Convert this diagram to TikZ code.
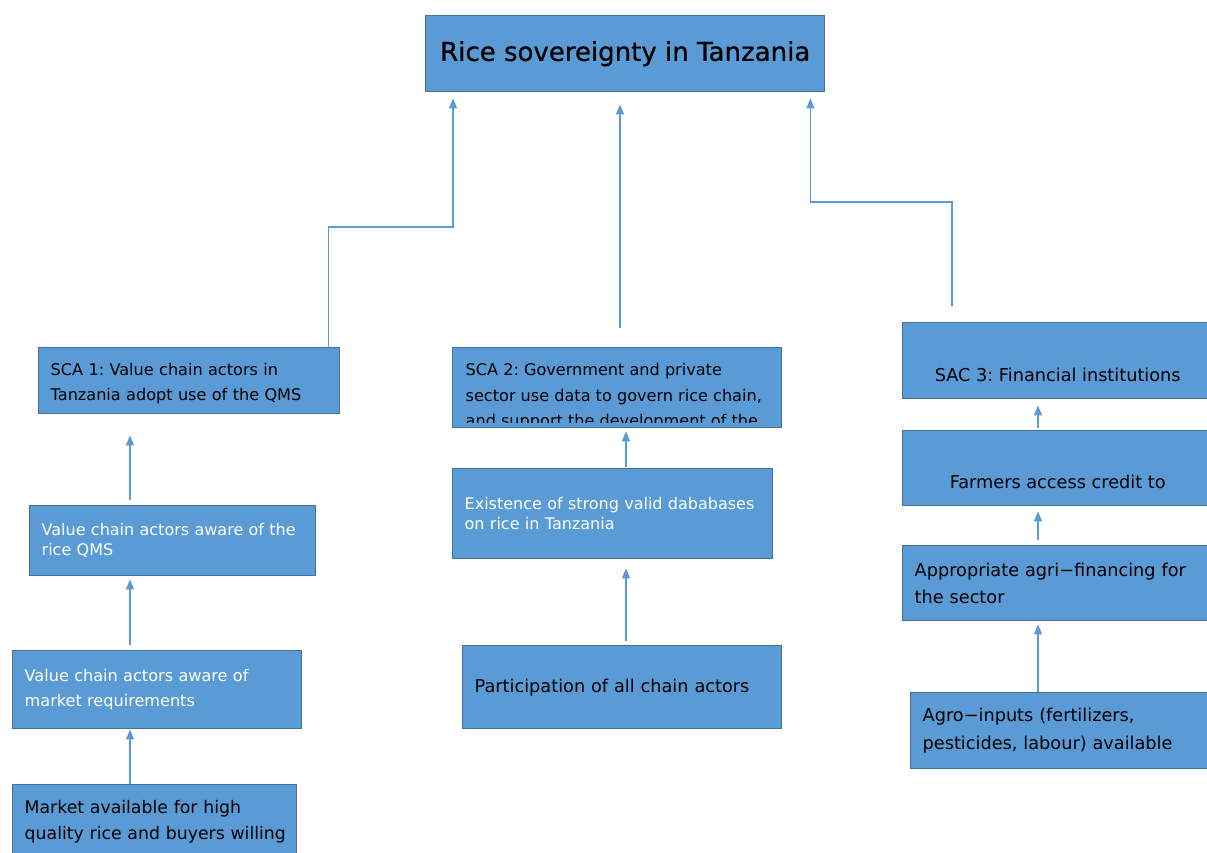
\documentclass[tikz,border=0pt]{standalone}
\usepackage{fontspec}
\setmainfont{DejaVu Sans}
\newfontfamily\titlefont{DejaVu Sans}[FakeBold=0.7]
\usetikzlibrary{arrows.meta}

\definecolor{boxblue}{HTML}{5B9BD5}
\definecolor{boxedge}{HTML}{41719C}
\definecolor{lineblue}{HTML}{5B9BD5}

\tikzset{
  box/.style={draw=boxedge, fill=boxblue, line width=1.4pt, anchor=north west,
    align=left, inner xsep=12pt, inner ysep=0pt,
    font=\fontsize{16.1}{25.5}\selectfont},
  bigbox/.style={box, font=\fontsize{17.7}{27.5}\selectfont},
  tightbox/.style={box, text=white, font=\fontsize{16}{20}\selectfont},
  arr/.style={draw=lineblue, line width=1.3pt, -{Triangle[length=10pt,width=8pt]}}
}

\begin{document}
\frenchspacing
\begin{tikzpicture}[x=1pt, y=-1pt]
\useasboundingbox (0,0) rectangle (1207,853);

\node[box, minimum width=399pt, minimum height=76pt, align=center, font=\titlefont\fontsize{26}{30}\selectfont] (title) at (425,15) {Rice sovereignty in Tanzania};

\node[box, text width=277pt, minimum height=66pt] (sca1) at (38,347) {\rule{0pt}{18pt}SCA 1: Value chain actors in\\Tanzania adopt use of the QMS};
\node[tightbox, text width=262pt, minimum height=70pt] (vcaqms) at (29,505) {Value chain actors aware of the\\rice QMS};
\node[box, text width=265pt, minimum height=78pt, text=white] (vcamkt) at (12,650) {Value chain actors aware of\\market requirements};
\node[bigbox, text width=260pt, minimum height=74pt, font=\fontsize{17.3}{26}\selectfont] (market) at (12,784) {Market available for high\\\mbox{quality rice and buyers willing}};

\node[box, minimum width=329pt, minimum height=80pt] (sca2) at (452,347) {};
\begin{scope}
\clip (sca2.north west) rectangle ([yshift=6pt]sca2.south east);
\node[box, draw=none, fill=none, inner xsep=0pt] (sca2txt) at ([xshift=13pt,yshift=-16pt]sca2.north west) {SCA 2: Government and private\\sector use data to govern rice chain,\\and support the development of the};
\end{scope}
\node[tightbox, text width=296pt, minimum height=90pt] (exist) at (452,468) {\mbox{Existence of strong valid dababases}\\on rice in Tanzania};
\node[bigbox, text width=295pt, minimum height=83pt] (partic) at (462,645) {Participation of all chain actors};

\node[bigbox, minimum width=310pt, minimum height=76pt, align=center] (sac3) at (902,322) {\mbox{}\\[14pt]SAC 3: Financial institutions};
\node[bigbox, minimum width=310pt, minimum height=75pt, align=center] (farmers) at (902,430) {\mbox{}\\[14pt]Farmers access credit to};
\node[bigbox, text width=286pt, minimum height=75pt] (approp) at (902,545) {Appropriate agri−financing for\\the sector};
\node[bigbox, text width=281pt, minimum height=76pt] (agro) at (910,692) {Agro−inputs (fertilizers,\\pesticides, labour) available};

\coordinate (t1) at ([xshift=28pt,yshift=-6pt]title.south west);
\coordinate (t2) at ([xshift=195pt,yshift=-12pt]title.south west);
\coordinate (t3) at ([xshift=-15pt,yshift=-6pt]title.south east);
\coordinate (m0) at ([xshift=168pt,yshift=19pt]sca2.north west);
\coordinate (r0) at ([xshift=50pt,yshift=16pt]sac3.north west);

\draw[arr] ([xshift=-12pt]sca1.north east) -- ++(0,-120) -| (t1);
\draw[arr] (m0) -- (t2);
\draw[arr] (r0) -- ++(0,-104) -| (t3);

\draw[arr] ([xshift=101pt,yshift=5pt]vcaqms.north west) -- ([xshift=92pt,yshift=-21pt]sca1.south west);
\draw[arr] ([xshift=118pt,yshift=5pt]vcamkt.north west) -- ([xshift=101pt,yshift=-3pt]vcaqms.south west);
\draw[arr] ([xshift=118pt]market.north west) -- ([xshift=118pt]vcamkt.south west);

\draw[arr] ([xshift=174pt,yshift=1pt]exist.north west) -- ([xshift=174pt,yshift=-3pt]sca2.south west);
\draw[arr] ([xshift=164pt,yshift=4pt]partic.north west) -- ([xshift=174pt,yshift=-9pt]exist.south west);

\draw[arr] ([xshift=136pt,yshift=2pt]farmers.north west) -- ([xshift=136pt,yshift=-6pt]sac3.south west);
\draw[arr] ([xshift=136pt,yshift=5pt]approp.north west) -- ([xshift=136pt,yshift=-5pt]farmers.south west);
\draw[arr] ([xshift=128pt]agro.north west) -- ([xshift=136pt,yshift=-3pt]approp.south west);

\end{tikzpicture}
\end{document}
